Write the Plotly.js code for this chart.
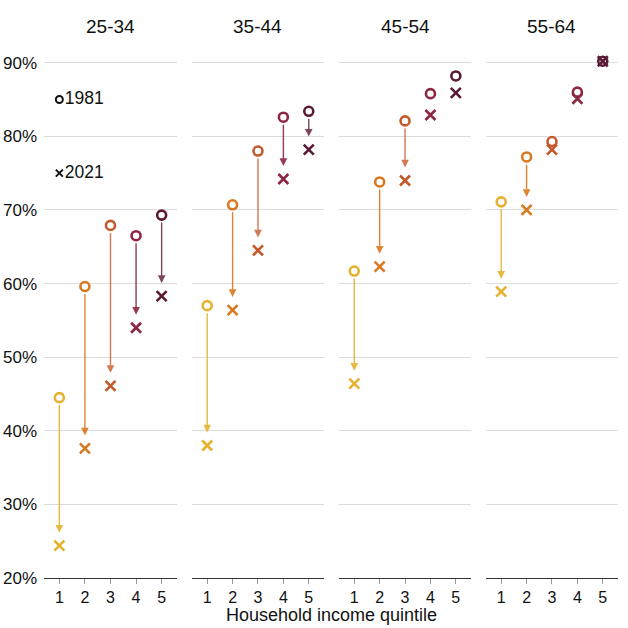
<!DOCTYPE html>
<html>
<head>
<meta charset="utf-8">
<script src="https://cdn.plot.ly/plotly-3.0.1.min.js"></script>
<style>
  html, body { margin: 0; padding: 0; background: #fff; }
  #chart { width: 628px; height: 628px; }
</style>
</head>
<body>
<div id="chart"></div>
<script>
// Share of each age group (in %), by household income quintile
const quintiles = [1, 2, 3, 4, 5];
const ageGroups = ['25-34', '35-44', '45-54', '55-64'];

const y1981_25_34 = [44.5, 59.6, 67.9, 66.5, 69.3];
const y2021_25_34 = [24.4, 37.6, 46.1, 54.0, 58.3];

const y1981_35_44 = [57.0, 70.7, 78.0, 82.6, 83.4];
const y2021_35_44 = [38.0, 56.4, 64.5, 74.2, 78.2];

const y1981_45_54 = [61.7, 73.8, 82.1, 85.8, 88.2];
const y2021_45_54 = [46.4, 62.3, 74.0, 82.9, 85.9];

const y1981_55_64 = [71.1, 77.2, 79.3, 86.0, 90.2];
const y2021_55_64 = [58.9, 70.0, 78.2, 85.1, 90.2];

const yTicks = [20, 30, 40, 50, 60, 70, 80, 90];

// One colour per quintile, yellow -> plum
const colors = ['#e6b12e', '#d9791f', '#c6592b', '#8c2641', '#5a1a36'];
const lineColors = ['rgba(230,177,46,0.9)', 'rgba(217,121,31,0.9)', 'rgba(198,89,43,0.8)',
                    'rgba(140,38,65,0.9)', 'rgba(90,26,54,0.8)'];

const values1981 = [y1981_25_34, y1981_35_44, y1981_45_54, y1981_55_64];
const values2021 = [y2021_25_34, y2021_35_44, y2021_45_54, y2021_55_64];

const domains = [[0, 0.2317], [0.2578, 0.4878], [0.514, 0.744], [0.770, 1]];

const data = [];
const annotations = [];
const layout = {
  width: 628,
  height: 628,
  margin: { t: 48, l: 44, r: 10, b: 50 },
  paper_bgcolor: '#fff',
  plot_bgcolor: '#fff',
  showlegend: false,
  hovermode: false,
  font: { family: 'Liberation Sans, Arial, sans-serif', size: 17, color: '#111' },
  yaxis: {
    range: [20, 92],
    tickvals: yTicks,
    ticktext: yTicks.map(v => v + '%'),
    showgrid: true,
    gridcolor: '#dcdcdc',
    gridwidth: 1,
    zeroline: false,
    showline: false,
    ticks: '',
    ticklabelstandoff: 6,
    tickfont: { size: 17, color: '#111' },
    fixedrange: true,
  },
};

ageGroups.forEach((group, i) => {
  const xName = i === 0 ? 'x' : 'x' + (i + 1);
  const axKey = i === 0 ? 'xaxis' : 'xaxis' + (i + 1);

  layout[axKey] = {
    domain: domains[i],
    anchor: 'y',
    range: [0.4, 5.6],
    tickvals: quintiles,
    ticks: 'outside',
    ticklen: 5,
    tickcolor: '#999',
    showline: true,
    linecolor: '#333',
    linewidth: 1,
    showgrid: false,
    zeroline: false,
    tickfont: { size: 16, color: '#111' },
    fixedrange: true,
  };

  // arrows from 1981 to 2021
  quintiles.forEach((q, k) => {
    annotations.push({
      x: q, y: values2021[i][k],
      ax: q, ay: values1981[i][k],
      xref: xName, yref: 'y', axref: xName, ayref: 'y',
      text: '',
      showarrow: true,
      arrowhead: 2,
      arrowsize: 1.1,
      arrowwidth: 1.4,
      arrowcolor: lineColors[k],
      standoff: 13,
      startstandoff: 6,
    });
  });

  data.push({
    x: quintiles, y: values1981[i],
    xaxis: xName, yaxis: 'y',
    type: 'scatter', mode: 'markers',
    marker: { symbol: 'circle-open', size: 9, color: colors, line: { width: 2.6, color: colors } },
  });
  data.push({
    x: quintiles, y: values2021[i],
    xaxis: xName, yaxis: 'y',
    type: 'scatter', mode: 'markers',
    marker: { symbol: 'x-thin-open', size: 10, color: colors, line: { width: 2.6, color: colors } },
  });

  // panel title
  annotations.push({
    xref: 'paper', yref: 'paper',
    x: (domains[i][0] + domains[i][1]) / 2, y: 1.04,
    xanchor: 'center', yanchor: 'middle',
    text: group, showarrow: false,
    font: { size: 19, color: '#111' },
  });
});

// in-panel key
data.push({
  x: [1], y: [85], xaxis: 'x', yaxis: 'y',
  type: 'scatter', mode: 'markers+text',
  text: ['1981'], textposition: 'middle right',
  textfont: { size: 17.5, color: '#111' },
  marker: { symbol: 'circle-open', size: 7, color: '#111', line: { width: 2, color: '#111' } },
});
data.push({
  x: [1], y: [75], xaxis: 'x', yaxis: 'y',
  type: 'scatter', mode: 'markers+text',
  text: ['2021'], textposition: 'middle right',
  textfont: { size: 17.5, color: '#111' },
  marker: { symbol: 'x-thin-open', size: 7, color: '#111', line: { width: 2, color: '#111' } },
});

// x-axis title shared by all panels
annotations.push({
  xref: 'paper', yref: 'paper',
  x: 0.5, y: -0.07,
  xanchor: 'center', yanchor: 'middle',
  text: 'Household income quintile', showarrow: false,
  font: { size: 18, color: '#111' },
});

layout.annotations = annotations;

Plotly.newPlot('chart', data, layout, { displayModeBar: false, staticPlot: true });
</script>
</body>
</html>
